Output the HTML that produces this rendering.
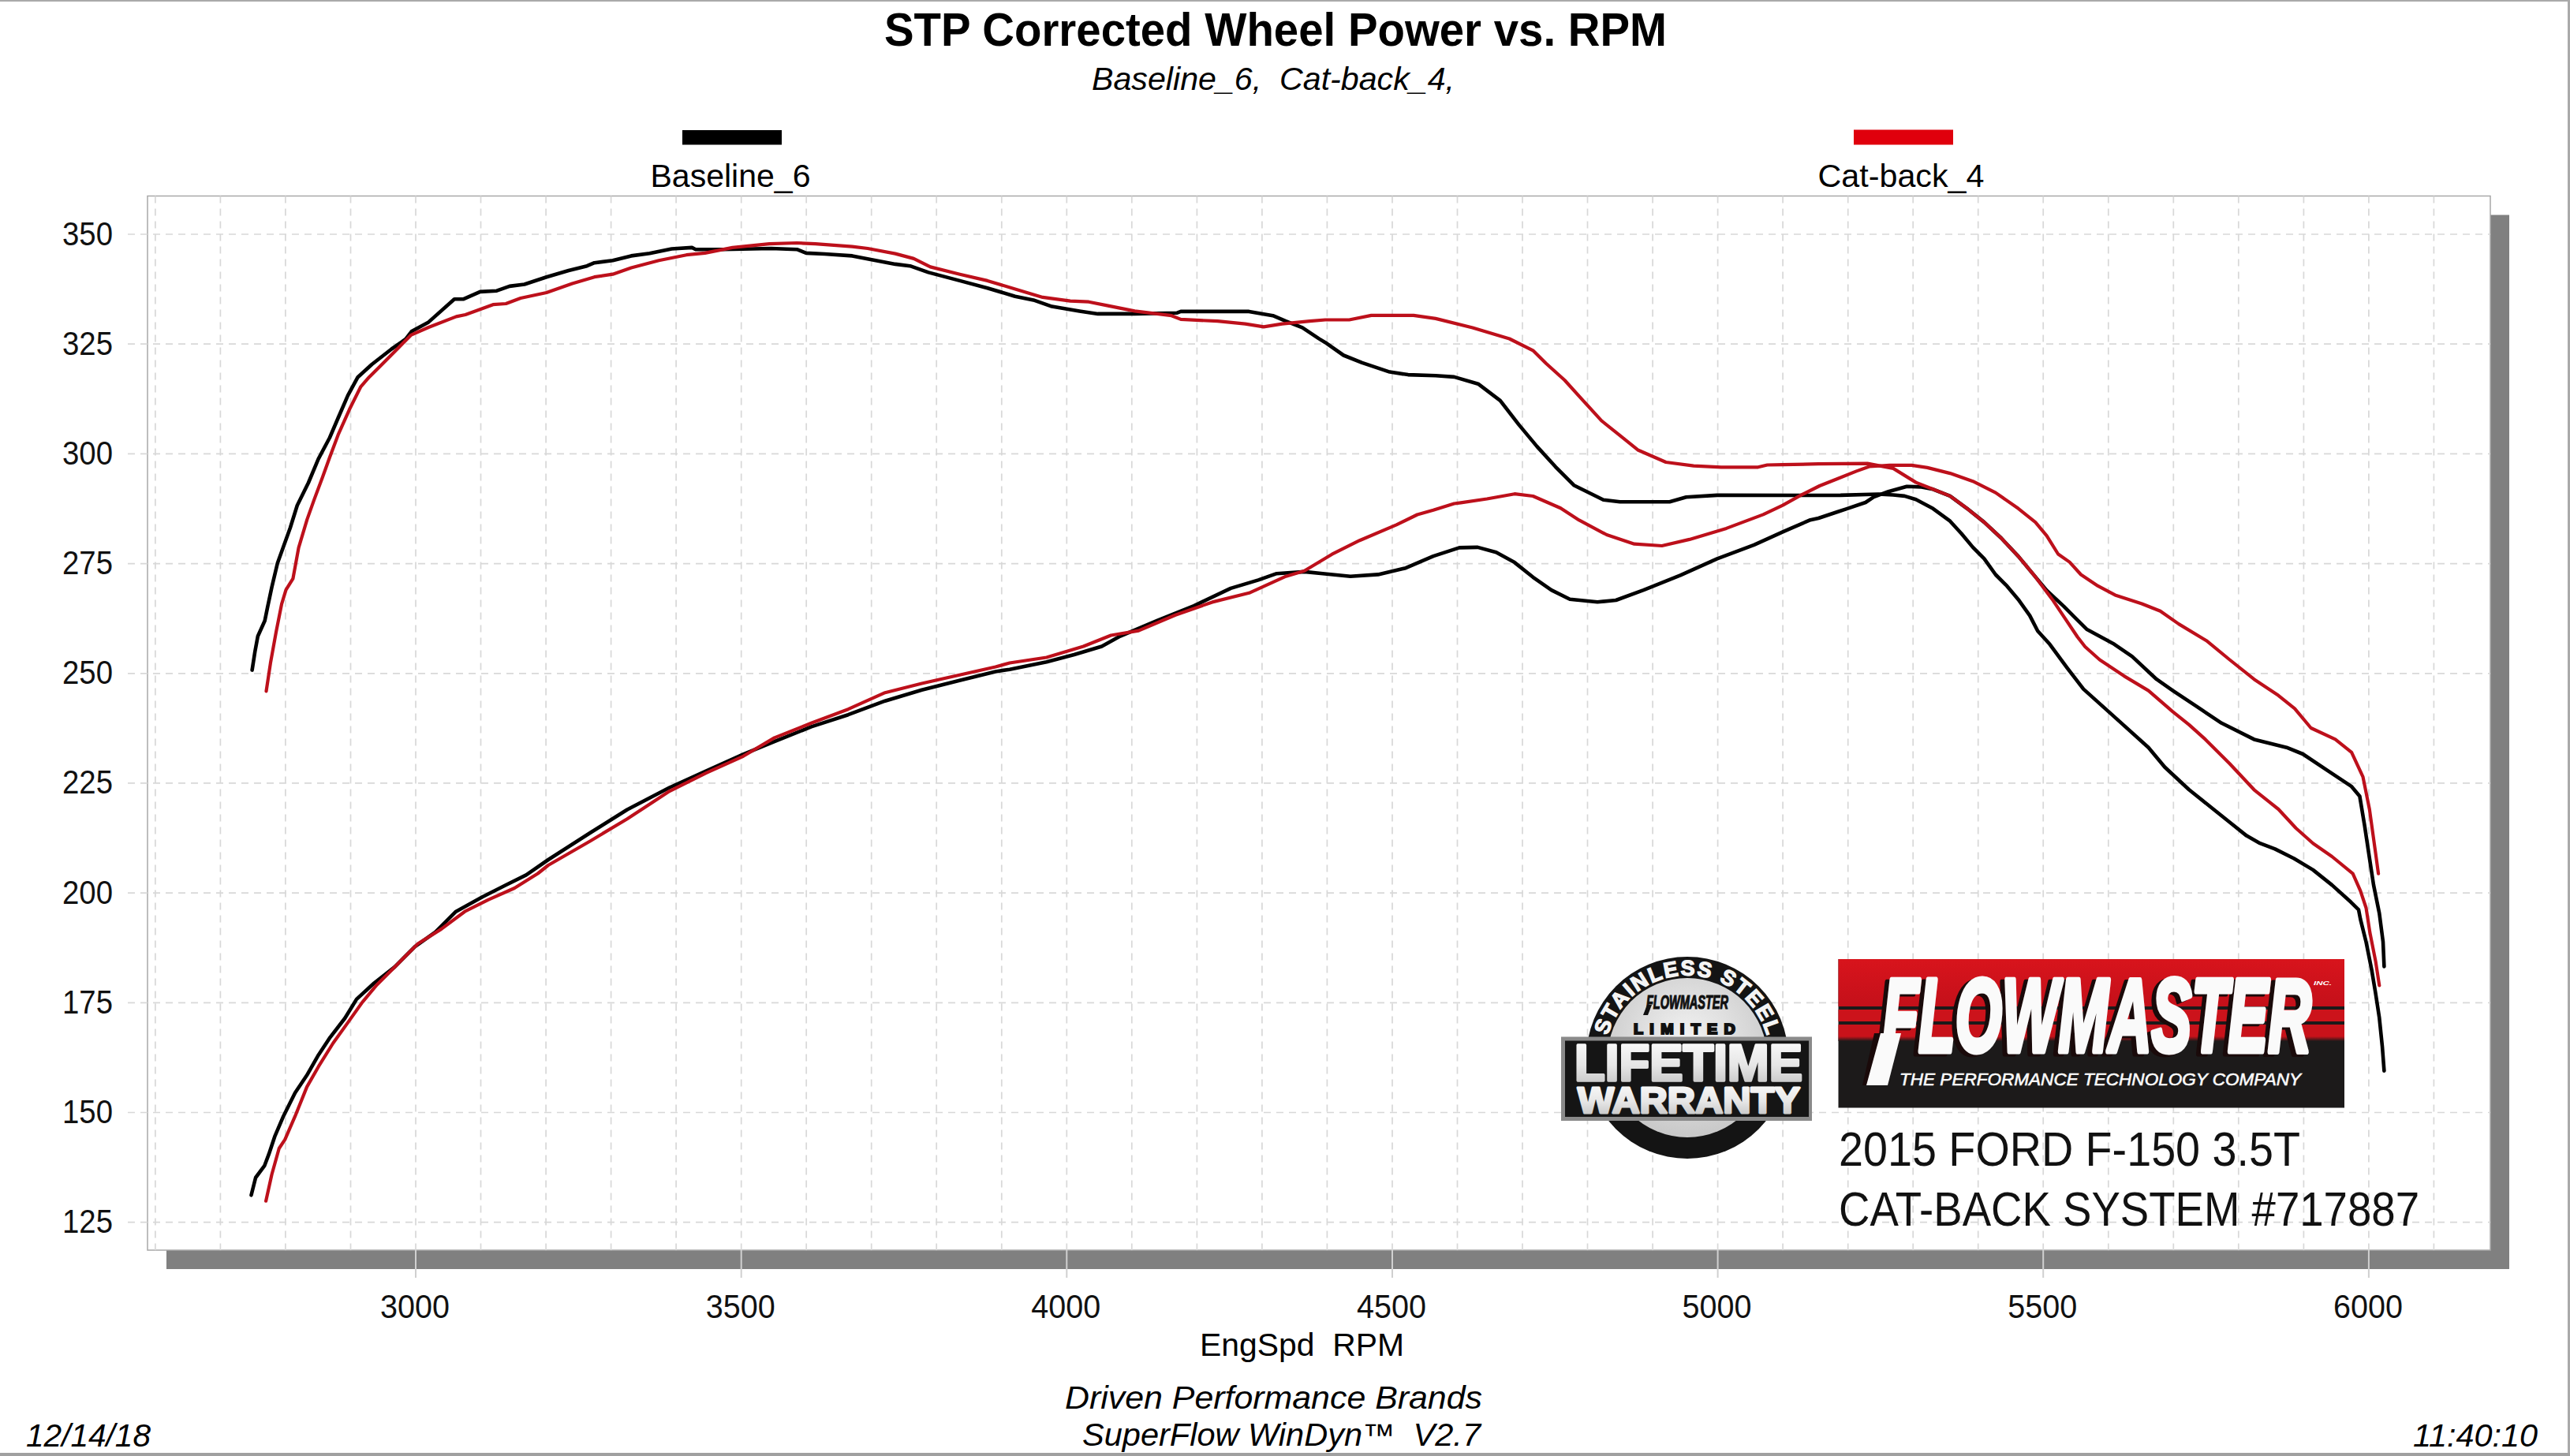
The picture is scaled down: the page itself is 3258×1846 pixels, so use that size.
<!DOCTYPE html>
<html><head><meta charset="utf-8"><title>STP Corrected Wheel Power vs. RPM</title>
<style>html,body{margin:0;padding:0;background:#fff;width:3258px;height:1846px;overflow:hidden}svg{display:block}</style>
</head><body>
<svg width="3258" height="1846" viewBox="0 0 3258 1846" font-family='"Liberation Sans", Arial, sans-serif'><rect x="0" y="0" width="3258" height="2" fill="#aaa"/>
<rect x="3255" y="0" width="3" height="1846" fill="#aaa"/>
<rect x="0" y="1842" width="3258" height="4" fill="#a0a0a0"/>
<rect x="211" y="272.5" width="2970" height="1336.5" fill="#808080"/>
<rect x="187" y="248.5" width="2970" height="1336.5" fill="#fff" stroke="#a8a8a8" stroke-width="1.5"/>
<path d="M196.9 248.5V1585 M279.4 248.5V1585 M361.9 248.5V1585 M444.5 248.5V1585 M527.0 248.5V1585 M609.5 248.5V1585 M692.1 248.5V1585 M774.6 248.5V1585 M857.1 248.5V1585 M939.7 248.5V1585 M1022.2 248.5V1585 M1104.7 248.5V1585 M1187.2 248.5V1585 M1269.8 248.5V1585 M1352.3 248.5V1585 M1434.8 248.5V1585 M1517.4 248.5V1585 M1599.9 248.5V1585 M1682.4 248.5V1585 M1765.0 248.5V1585 M1847.5 248.5V1585 M1930.0 248.5V1585 M2012.5 248.5V1585 M2095.1 248.5V1585 M2177.6 248.5V1585 M2260.1 248.5V1585 M2342.7 248.5V1585 M2425.2 248.5V1585 M2507.7 248.5V1585 M2590.2 248.5V1585 M2672.8 248.5V1585 M2755.3 248.5V1585 M2837.8 248.5V1585 M2920.4 248.5V1585 M3002.9 248.5V1585 M3085.4 248.5V1585 M162 1549.7H3157 M162 1410.5H3157 M162 1271.3H3157 M162 1132.1H3157 M162 992.9H3157 M162 853.8H3157 M162 714.6H3157 M162 575.4H3157 M162 436.2H3157 M162 297.0H3157" stroke="#d8d8d8" stroke-width="1.7" stroke-dasharray="9 7" fill="none"/>
<path d="M527.0 1585V1620 M939.7 1585V1620 M1352.3 1585V1620 M1765.0 1585V1620 M2177.6 1585V1620 M2590.2 1585V1620 M3002.9 1585V1620" stroke="#d0d0d0" stroke-width="2" fill="none"/>
<text x="143" y="1563.2" font-size="42" font-weight="normal" font-style="normal" text-anchor="end" fill="#111" textLength="64" lengthAdjust="spacingAndGlyphs" >125</text>
<text x="143" y="1424.0" font-size="42" font-weight="normal" font-style="normal" text-anchor="end" fill="#111" textLength="64" lengthAdjust="spacingAndGlyphs" >150</text>
<text x="143" y="1284.8" font-size="42" font-weight="normal" font-style="normal" text-anchor="end" fill="#111" textLength="64" lengthAdjust="spacingAndGlyphs" >175</text>
<text x="143" y="1145.6" font-size="42" font-weight="normal" font-style="normal" text-anchor="end" fill="#111" textLength="64" lengthAdjust="spacingAndGlyphs" >200</text>
<text x="143" y="1006.4" font-size="42" font-weight="normal" font-style="normal" text-anchor="end" fill="#111" textLength="64" lengthAdjust="spacingAndGlyphs" >225</text>
<text x="143" y="867.3" font-size="42" font-weight="normal" font-style="normal" text-anchor="end" fill="#111" textLength="64" lengthAdjust="spacingAndGlyphs" >250</text>
<text x="143" y="728.1" font-size="42" font-weight="normal" font-style="normal" text-anchor="end" fill="#111" textLength="64" lengthAdjust="spacingAndGlyphs" >275</text>
<text x="143" y="588.9" font-size="42" font-weight="normal" font-style="normal" text-anchor="end" fill="#111" textLength="64" lengthAdjust="spacingAndGlyphs" >300</text>
<text x="143" y="449.7" font-size="42" font-weight="normal" font-style="normal" text-anchor="end" fill="#111" textLength="64" lengthAdjust="spacingAndGlyphs" >325</text>
<text x="143" y="310.5" font-size="42" font-weight="normal" font-style="normal" text-anchor="end" fill="#111" textLength="64" lengthAdjust="spacingAndGlyphs" >350</text>
<text x="526.0" y="1670.5" font-size="42" font-weight="normal" font-style="normal" text-anchor="middle" fill="#111" textLength="88" lengthAdjust="spacingAndGlyphs" >3000</text>
<text x="938.7" y="1670.5" font-size="42" font-weight="normal" font-style="normal" text-anchor="middle" fill="#111" textLength="88" lengthAdjust="spacingAndGlyphs" >3500</text>
<text x="1351.3" y="1670.5" font-size="42" font-weight="normal" font-style="normal" text-anchor="middle" fill="#111" textLength="88" lengthAdjust="spacingAndGlyphs" >4000</text>
<text x="1764.0" y="1670.5" font-size="42" font-weight="normal" font-style="normal" text-anchor="middle" fill="#111" textLength="88" lengthAdjust="spacingAndGlyphs" >4500</text>
<text x="2176.6" y="1670.5" font-size="42" font-weight="normal" font-style="normal" text-anchor="middle" fill="#111" textLength="88" lengthAdjust="spacingAndGlyphs" >5000</text>
<text x="2589.2" y="1670.5" font-size="42" font-weight="normal" font-style="normal" text-anchor="middle" fill="#111" textLength="88" lengthAdjust="spacingAndGlyphs" >5500</text>
<text x="3001.9" y="1670.5" font-size="42" font-weight="normal" font-style="normal" text-anchor="middle" fill="#111" textLength="88" lengthAdjust="spacingAndGlyphs" >6000</text>
<text x="1121" y="58" font-size="60" font-weight="bold" font-style="normal" text-anchor="start" fill="#000" textLength="992" lengthAdjust="spacingAndGlyphs" >STP Corrected Wheel Power vs. RPM</text>
<text x="1384" y="113.5" font-size="41" font-weight="normal" font-style="italic" text-anchor="start" fill="#000" textLength="460" lengthAdjust="spacingAndGlyphs" xml:space="preserve">Baseline_6,  Cat-back_4,</text>
<rect x="865" y="165" width="126" height="18.5" fill="#000"/>
<rect x="2350" y="164.5" width="126" height="19" fill="#e0000c"/>
<text x="824.5" y="237" font-size="41" font-weight="normal" font-style="normal" text-anchor="start" fill="#000" textLength="203" lengthAdjust="spacingAndGlyphs" >Baseline_6</text>
<text x="2304.5" y="237" font-size="41" font-weight="normal" font-style="normal" text-anchor="start" fill="#000" textLength="211" lengthAdjust="spacingAndGlyphs" >Cat-back_4</text>
<text x="1521" y="1719" font-size="40" font-weight="normal" font-style="normal" text-anchor="start" fill="#000" textLength="259" lengthAdjust="spacingAndGlyphs" xml:space="preserve">EngSpd  RPM</text>
<text x="1350" y="1786" font-size="40" font-weight="normal" font-style="italic" text-anchor="start" fill="#000" textLength="529" lengthAdjust="spacingAndGlyphs" >Driven Performance Brands</text>
<text x="1372" y="1832.5" font-size="40" font-weight="normal" font-style="italic" text-anchor="start" fill="#000" textLength="505" lengthAdjust="spacingAndGlyphs" xml:space="preserve">SuperFlow WinDyn™  V2.7</text>
<text x="33" y="1834" font-size="40" font-weight="normal" font-style="italic" text-anchor="start" fill="#000" textLength="158" lengthAdjust="spacingAndGlyphs" >12/14/18</text>
<text x="3059" y="1834" font-size="40" font-weight="normal" font-style="italic" text-anchor="start" fill="#000" textLength="158" lengthAdjust="spacingAndGlyphs" >11:40:10</text>
<polyline points="319.6,849.6 323.2,826.4 326.8,806.8 335.7,787.0 339.3,769.3 344.6,744.3 351.8,714.0 358.9,694.3 367.9,669.3 376.8,640.7 391.0,612.0 403.6,581.8 417.9,555.0 428.6,530.0 441.0,501.4 453.6,478.2 471.4,462.0 496.4,442.5 514.3,430.0 522.0,420.0 543.3,408.4 576.0,379.2 587.7,379.2 608.7,369.9 629.7,368.7 646.0,362.9 664.8,360.5 692.8,351.2 720.8,343.0 744.1,337.2 753.5,333.2 776.8,330.2 800.2,324.4 823.5,321.3 851.5,315.5 877.2,313.9 881.9,316.2 916.9,316.2 977.6,315.0 1010.3,316.2 1022.0,320.9 1045.3,322.0 1080.4,324.4 1103.7,329.0 1135.0,334.9 1153.7,337.2 1177.0,345.4 1216.7,355.9 1251.8,365.2 1286.8,375.7 1310.1,380.4 1333.5,388.6 1368.5,394.4 1391.8,397.9 1438.5,397.9 1492.3,396.7 1496.9,394.9 1583.3,394.9 1613.7,400.2 1630.0,407.2 1651.0,415.4 1672.0,429.4 1680.0,434.2 1703.3,450.5 1726.7,459.9 1761.7,471.6 1785.0,475.1 1820.0,476.2 1843.4,477.9 1873.8,486.7 1901.8,507.8 1925.2,538.1 1948.5,566.1 1971.9,591.8 1995.2,615.2 2018.5,626.8 2032.6,633.8 2053.6,636.2 2116.6,636.2 2137.6,630.3 2176.9,627.9 2280.0,628.0 2333.3,627.9 2381.4,626.5 2400.0,627.5 2414.4,628.9 2428.8,633.3 2450.5,644.8 2472.1,660.7 2486.5,676.5 2501.0,693.9 2515.4,708.3 2529.8,728.5 2544.2,742.9 2558.7,760.2 2573.1,780.4 2583.2,800.0 2598.5,816.8 2620.6,846.8 2641.2,873.6 2682.4,910.6 2723.6,947.7 2744.2,972.5 2775.1,1001.3 2806.0,1026.0 2826.6,1042.5 2848.0,1059.6 2865.0,1069.2 2884.0,1076.4 2908.2,1088.5 2932.2,1102.9 2956.3,1122.1 2980.3,1143.8 2990.0,1153.4 2992.3,1165.4 2999.5,1194.2 3006.7,1230.3 3011.5,1259.1 3016.3,1290.4 3020.0,1326.4 3022.4,1357.7" fill="none" stroke="#000" stroke-width="4.6" stroke-linejoin="round" stroke-linecap="round"/>
<polyline points="318.5,1515.3 324.1,1493.0 335.2,1478.2 340.8,1463.4 348.2,1441.2 359.3,1415.2 374.1,1385.5 389.0,1363.3 403.8,1337.4 418.6,1315.1 437.2,1291.0 452.0,1266.9 474.2,1246.5 500.2,1226.1 526.1,1200.2 552.1,1181.6 578.0,1155.7 611.4,1137.2 641.0,1122.3 667.0,1109.4 695.0,1090.0 748.4,1055.7 795.1,1026.5 848.8,998.5 895.5,977.4 942.2,956.4 981.8,940.1 1028.5,921.4 1075.2,906.2 1122.0,888.7 1168.6,874.7 1215.3,863.0 1262.0,851.4 1280.0,848.7 1326.7,839.3 1361.7,830.0 1396.7,819.5 1420.1,806.6 1466.8,786.8 1513.5,768.1 1560.2,745.9 1595.2,735.4 1618.5,727.2 1653.6,724.9 1676.9,727.2 1711.9,730.7 1747.0,728.4 1782.0,720.2 1817.0,705.1 1850.0,694.4 1873.3,693.9 1896.7,700.2 1920.0,713.1 1943.4,731.8 1966.7,748.1 1990.1,759.8 2025.1,763.3 2048.5,761.0 2083.5,748.1 2130.2,729.4 2176.9,708.4 2223.6,690.9 2260.0,674.4 2270.3,669.9 2295.0,659.2 2305.3,657.0 2330.0,648.7 2340.3,645.4 2365.0,637.0 2375.3,630.2 2394.0,623.2 2417.3,616.7 2436.0,617.4 2450.5,620.3 2472.1,628.9 2493.8,644.8 2515.4,662.1 2537.0,682.3 2558.7,705.4 2580.3,731.4 2594.7,748.7 2616.4,768.9 2630.8,783.3 2645.2,797.7 2680.3,816.8 2703.0,832.4 2733.9,861.2 2754.5,875.6 2785.4,896.2 2816.3,916.8 2857.5,937.4 2898.7,947.7 2919.3,956.0 2950.2,976.6 2981.1,997.2 2991.4,1009.5 2997.6,1046.6 3003.8,1087.8 3009.0,1122.0 3016.3,1158.0 3021.0,1194.0 3022.4,1225.5" fill="none" stroke="#000" stroke-width="4.6" stroke-linejoin="round" stroke-linecap="round"/>
<polyline points="337.5,876.4 342.9,840.7 350.0,801.4 357.1,765.7 362.5,747.9 371.4,733.6 378.6,694.3 389.3,658.6 398.2,633.6 408.9,605.0 417.9,580.0 428.6,551.4 442.9,519.3 457.1,490.7 467.9,478.2 485.7,460.4 503.6,442.5 521.4,424.6 543.3,415.0 578.4,401.4 590.0,399.0 625.0,386.2 641.4,385.0 660.0,378.0 692.8,371.0 725.5,359.4 753.5,351.2 776.8,347.7 800.2,339.5 835.2,330.2 870.2,323.2 893.6,320.9 928.6,313.9 975.3,309.2 1010.3,308.0 1033.6,309.2 1080.4,312.7 1100.0,315.0 1135.0,321.6 1158.4,327.9 1179.4,338.4 1216.7,347.7 1251.8,355.9 1298.5,369.9 1321.8,376.9 1356.8,381.6 1380.2,382.7 1403.5,387.4 1438.5,394.4 1485.2,400.2 1496.9,404.9 1543.6,407.2 1578.6,410.7 1602.0,414.3 1625.3,410.7 1660.4,407.2 1680.0,405.5 1710.4,405.5 1738.4,399.9 1792.0,399.9 1820.0,403.9 1866.8,415.5 1913.5,429.5 1943.8,444.7 1960.2,461.0 1983.5,482.0 2006.9,507.8 2030.2,533.4 2053.6,552.1 2076.9,570.8 2111.9,586.0 2147.0,590.6 2182.0,592.3 2228.7,592.3 2240.4,589.5 2260.0,589.2 2305.3,588.2 2367.4,587.6 2400.1,593.9 2428.8,611.6 2450.5,620.3 2472.1,628.9 2493.8,644.8 2515.4,662.1 2537.0,682.3 2558.7,705.4 2580.3,731.4 2601.9,760.2 2616.4,781.8 2633.6,807.5 2643.3,820.0 2661.8,836.5 2692.7,857.1 2723.6,875.6 2754.5,902.4 2775.1,918.9 2795.7,937.4 2826.6,968.3 2857.5,1001.3 2888.4,1026.0 2910.6,1050.0 2932.2,1069.2 2956.3,1086.0 2982.7,1107.7 2992.3,1129.3 2999.5,1151.0 3004.3,1182.2 3011.5,1218.3 3016.3,1249.5" fill="none" stroke="#bd101b" stroke-width="4.2" stroke-linejoin="round" stroke-linecap="round"/>
<polyline points="337.1,1522.7 344.5,1489.3 353.8,1456.0 361.2,1444.9 374.1,1415.2 389.0,1378.1 403.8,1352.2 422.3,1322.5 440.9,1296.6 459.4,1270.6 477.9,1248.4 503.9,1222.4 529.8,1196.5 559.5,1177.9 589.2,1155.7 618.8,1140.9 652.2,1126.0 681.8,1107.5 695.0,1097.0 748.4,1066.2 795.1,1038.2 848.8,1003.1 895.5,979.8 942.2,958.8 981.8,935.4 1028.5,916.7 1075.2,899.2 1122.0,878.2 1168.6,866.5 1215.3,856.0 1262.0,845.5 1280.0,840.5 1326.7,833.5 1373.4,819.5 1408.4,805.5 1443.4,799.6 1490.1,779.8 1536.8,763.4 1583.5,751.8 1630.2,730.7 1653.6,723.7 1688.6,702.7 1723.6,685.2 1770.3,665.4 1796.7,652.5 1817.0,646.7 1843.4,638.5 1852.0,637.4 1885.0,632.5 1920.0,626.2 1943.4,629.0 1978.4,644.2 2001.8,659.4 2036.8,678.0 2071.8,689.7 2106.8,692.0 2141.8,683.9 2188.5,669.9 2235.2,652.4 2260.0,640.6 2283.3,627.7 2306.7,616.0 2330.0,606.7 2353.4,597.4 2369.7,591.5 2395.4,589.9 2423.4,589.9 2443.3,592.9 2472.1,600.1 2501.0,610.2 2529.8,624.6 2558.7,644.8 2580.3,662.1 2594.7,679.4 2609.1,702.5 2623.6,712.6 2638.0,728.5 2659.6,742.9 2681.3,754.4 2715.3,765.5 2738.6,774.8 2762.0,791.1 2797.0,812.2 2826.6,836.5 2857.5,861.2 2888.4,881.8 2909.0,898.3 2929.6,923.0 2960.5,937.4 2981.1,953.9 2995.5,984.8 3003.8,1026.0 3011.5,1081.2 3015.1,1107.7" fill="none" stroke="#bd101b" stroke-width="4.2" stroke-linejoin="round" stroke-linecap="round"/>
<circle cx="2139" cy="1341" r="128" fill="#141414"/>
<defs><radialGradient id="disc" cx="0.5" cy="0.4" r="0.6"><stop offset="0" stop-color="#f4f4f4"/><stop offset="1" stop-color="#c8c8c8"/></radialGradient><linearGradient id="lt" x1="0" y1="0" x2="0" y2="1"><stop offset="0" stop-color="#ffffff"/><stop offset="0.55" stop-color="#e6e6e6"/><stop offset="1" stop-color="#bdbdbd"/></linearGradient><path id="arc" d="M2040.8,1376.7 A104.5,104.5 0 1,1 2237.2,1376.7"/></defs>
<circle cx="2139" cy="1341" r="101" fill="url(#disc)"/>
<text font-size="27" font-weight="bold" fill="#f4f4f4" stroke="#f4f4f4" stroke-width="1.4" font-family='"Liberation Sans", Arial, sans-serif'><textPath href="#arc" startOffset="50%" text-anchor="middle" textLength="272" lengthAdjust="spacing">STAINLESS STEEL</textPath></text>
<text x="2087" y="1278.5" font-size="23" font-weight="bold" font-style="italic" text-anchor="start" fill="#111" textLength="104" lengthAdjust="spacingAndGlyphs" stroke="#111" stroke-width="1.2">FLOWMASTER</text>
<polygon points="2088,1274 2094,1274 2089,1287 2083,1287" fill="#111"/>
<text x="2071" y="1311" font-size="19" font-weight="bold" font-style="normal" text-anchor="start" fill="#111" textLength="137" lengthAdjust="spacingAndGlyphs" letter-spacing="8" stroke="#111" stroke-width="2.2">LIMITED</text>
<rect x="1979" y="1314.5" width="318" height="106.5" fill="#8a8a8a"/>
<rect x="1984" y="1319.5" width="309" height="96.5" fill="#151515"/>
<text x="1996" y="1369.5" font-size="65" font-weight="bold" font-style="normal" text-anchor="start" fill="url(#lt)" textLength="289" lengthAdjust="spacingAndGlyphs" stroke="url(#lt)" stroke-width="3.5" stroke-linejoin="round">LIFETIME</text>
<text x="2000" y="1410.5" font-size="47" font-weight="bold" font-style="normal" text-anchor="start" fill="url(#lt)" textLength="282" lengthAdjust="spacingAndGlyphs" stroke="url(#lt)" stroke-width="3" stroke-linejoin="round">WARRANTY</text>
<defs><linearGradient id="fmred" x1="0" y1="0" x2="0" y2="1"><stop offset="0" stop-color="#d8141c"/><stop offset="1" stop-color="#c4101a"/></linearGradient></defs>
<rect x="2330.5" y="1216" width="641.5" height="188.5" fill="#1c1a1a"/>
<defs><linearGradient id="fmfade" x1="0" y1="0" x2="0" y2="1"><stop offset="0" stop-color="#c8121a"/><stop offset="1" stop-color="#1c1a1a"/></linearGradient></defs>
<rect x="2330.5" y="1216" width="641.5" height="60" fill="url(#fmred)"/>
<rect x="2330.5" y="1280" width="641.5" height="15" fill="#cc131b"/>
<rect x="2330.5" y="1299" width="641.5" height="15" fill="#c8121a"/>
<rect x="2330.5" y="1314" width="641.5" height="6" fill="url(#fmfade)"/>
<text x="2386" y="1333" font-size="132" font-weight="bold" font-style="italic" text-anchor="start" fill="#1a0a0a" textLength="544" lengthAdjust="spacingAndGlyphs" transform="translate(-6,3)" stroke="#1a0a0a" stroke-width="7" stroke-linejoin="round">FLOWMASTER</text>
<text x="2386" y="1333" font-size="132" font-weight="bold" font-style="italic" text-anchor="start" fill="#fafafa" textLength="544" lengthAdjust="spacingAndGlyphs" stroke="#fafafa" stroke-width="7" stroke-linejoin="round">FLOWMASTER</text>
<polygon points="2381,1310 2408,1310 2395,1376 2366,1376" fill="#1a0a0a" transform="translate(-5,0)"/>
<polygon points="2384,1310 2410,1310 2393,1376 2366,1376" fill="#fafafa"/>
<text x="2933" y="1249" font-size="8" font-weight="bold" font-style="italic" text-anchor="start" fill="#fff" textLength="23" lengthAdjust="spacingAndGlyphs" >INC.</text>
<text x="2408" y="1375.5" font-size="22" font-weight="normal" font-style="italic" text-anchor="start" fill="#fafafa" textLength="509" lengthAdjust="spacingAndGlyphs" stroke="#fafafa" stroke-width="0.6">THE PERFORMANCE TECHNOLOGY COMPANY</text>
<text x="2331" y="1478" font-size="61" font-weight="normal" font-style="normal" text-anchor="start" fill="#111" textLength="585" lengthAdjust="spacingAndGlyphs" >2015 FORD F-150 3.5T</text>
<text x="2331" y="1554" font-size="61" font-weight="normal" font-style="normal" text-anchor="start" fill="#111" textLength="736" lengthAdjust="spacingAndGlyphs" >CAT-BACK SYSTEM #717887</text></svg>
</body></html>
